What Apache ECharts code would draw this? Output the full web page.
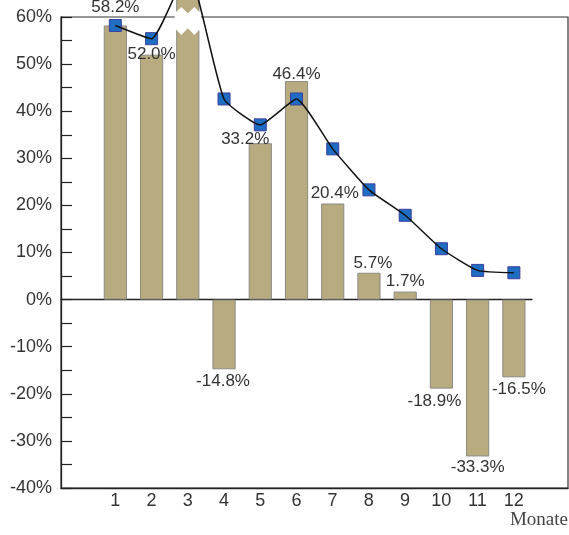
<!DOCTYPE html>
<html><head><meta charset="utf-8">
<script src="https://cdn.jsdelivr.net/npm/echarts@6/dist/echarts.min.js"></script>
<style>html,body{margin:0;padding:0;background:#fff}#c{width:569px;height:535px}</style>
</head><body><div id="c"></div>
<script>
// ---- data ----
const months = ['1','2','3','4','5','6','7','8','9','10','11','12'];
const barValues = [58.2, 52.0, 95.0, -14.8, 33.2, 46.4, 20.4, 5.7, 1.7, -18.9, -33.3, -16.5];
const lineValues = [58.2, 55.4, 70.0, 42.6, 37.1, 42.6, 32.0, 23.3, 17.9, 10.8, 6.2, 5.7];
const yTickValues = [-40, -30, -20, -10, 0, 10, 20, 30, 40, 50, 60];
const axisName = 'Monate';
const brokenMonth = '3';
const breakLower = [57.6, 56.2];   // lower zigzag: ends, quarter points
const breakUpper = [60.8, 62.1];   // upper zigzag: ends, quarter points

// ---- styling ----
const FONT = 'Liberation Sans';
const catsFull = [''].concat(months, ['']);
const catsPlot = [''].concat(months);
const yMin = yTickValues[0], yMax = yTickValues[yTickValues.length - 1];
const yStep = yTickValues[1] - yTickValues[0];

const labelPlacement = {
  '1': {distance: 10},
  '2': {distance: 0, offset: [0, 8.5]},
  '3': {show: false},
  '4': {position: 'bottom', distance: 3.5, offset: [-1, 0]},
  '5': {distance: 0, offset: [-15, 4.5]},
  '6': {distance: 0, offset: [0, 1.5]},
  '7': {distance: 1.5, offset: [2, 0]},
  '8': {distance: 0.5, offset: [4, 0]},
  '9': {distance: 1.5},
  '10': {position: 'bottom', distance: 4.5, offset: [-7, 0]},
  '11': {position: 'bottom', distance: 2},
  '12': {position: 'bottom', distance: 3.5, offset: [5, 0]}
};

const barData = ['-'].concat(months.map((m, i) => ({
  value: barValues[i],
  label: Object.assign({}, labelPlacement[m])
})));
const lineData = ['-'].concat(lineValues);
const breakIdx = catsPlot.indexOf(brokenMonth);

const chart = echarts.init(document.getElementById('c'), null, {renderer: 'canvas'});
chart.setOption({
  animation: false,
  backgroundColor: '#fff',
  textStyle: {fontFamily: FONT},
  title: {
    text: axisName, right: 1, top: 511, padding: 0,
    textStyle: {fontFamily: 'Liberation Serif', fontSize: 19, fontWeight: 'normal', color: '#444'}
  },
  grid: [
    {left: 61, right: 1, top: 17, bottom: 47, show: true, borderColor: '#333', borderWidth: 1.2, backgroundColor: 'transparent'},
    {left: 61, right: 37, top: 17, bottom: 47}
  ],
  xAxis: [
    {
      gridIndex: 0, type: 'category', data: catsFull, position: 'bottom',
      axisLine: {onZero: false, lineStyle: {color: '#222', width: 1.3}},
      axisTick: {inside: true, length: 12, interval: 0, lineStyle: {color: '#222', width: 1.2}},
      axisLabel: {interval: 0, fontSize: 18, color: '#333', margin: 4, fontFamily: FONT},
      splitLine: {show: false}
    },
    {
      gridIndex: 1, type: 'category', data: catsPlot,
      axisLine: {onZero: true, lineStyle: {color: '#222', width: 1.3}},
      axisTick: {inside: true, length: 12, interval: 0, lineStyle: {color: '#222', width: 1.2}},
      axisLabel: {show: false},
      splitLine: {show: false}
    }
  ],
  yAxis: [
    {
      gridIndex: 0, type: 'value', min: yMin, max: yMax, interval: yStep,
      axisLine: {show: true, lineStyle: {color: '#222', width: 1.3}},
      axisTick: {show: true, inside: true, length: 11, lineStyle: {color: '#222', width: 1.2}},
      minorTick: {show: true, splitNumber: 2, length: 11, lineStyle: {color: '#222', width: 1.2}},
      axisLabel: {formatter: '{value}%', fontSize: 18, color: '#333', margin: 9, fontFamily: FONT},
      splitLine: {show: false}
    },
    {
      gridIndex: 1, type: 'value', min: yMin, max: yMax, interval: yStep, show: false
    }
  ],
  series: [
    {
      type: 'bar', xAxisIndex: 1, yAxisIndex: 1, data: barData, barWidth: '64%', clip: false, z: 2,
      itemStyle: {color: '#b9ab80', borderColor: '#8a8a84', borderWidth: 1},
      label: {
        show: true, position: 'top', fontSize: 17, color: '#333', fontFamily: FONT,
        formatter: p => Number(p.value).toFixed(1) + '%'
      }
    },
    {
      type: 'custom', xAxisIndex: 1, yAxisIndex: 1, z: 3, clip: false,
      data: [[breakIdx, breakLower[0]]],
      encode: {x: 0, y: 1},
      renderItem: function (params, api) {
        const c = api.value(0);
        const xc = api.coord([c, 0])[0];
        const w = api.size([1, 0])[0] * 0.64 + 3;
        const x0 = xc - w / 2;
        const Y = v => api.coord([c, v])[1];
        const pts = [
          [x0, Y(breakUpper[0])], [x0 + w / 4, Y(breakUpper[1])], [x0 + w / 2, Y(breakUpper[0])],
          [x0 + 3 * w / 4, Y(breakUpper[1])], [x0 + w, Y(breakUpper[0])],
          [x0 + w, Y(breakLower[0])], [x0 + 3 * w / 4, Y(breakLower[1])], [x0 + w / 2, Y(breakLower[0])],
          [x0 + w / 4, Y(breakLower[1])], [x0, Y(breakLower[0])]
        ];
        return {type: 'polygon', shape: {points: pts}, style: {fill: '#fff', stroke: null}};
      }
    },
    {
      type: 'scatter', xAxisIndex: 1, yAxisIndex: 1, data: lineData, z: 4,
      symbol: 'rect', symbolSize: 12,
      itemStyle: {color: '#1f6dc2', borderColor: '#3b3f9c', borderWidth: 1, opacity: 1}
    },
    {
      type: 'line', xAxisIndex: 1, yAxisIndex: 1, data: lineData, z: 5, clip: false,
      showSymbol: false, smooth: 0.15,
      lineStyle: {color: '#111', width: 1.5}
    }
  ]
});
</script></body></html>
